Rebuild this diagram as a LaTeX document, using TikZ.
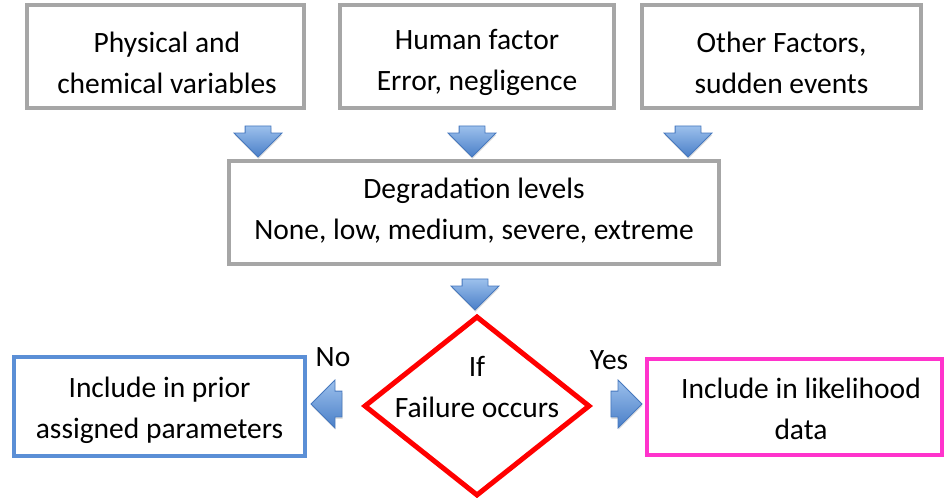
\documentclass[tikz,border=0pt]{standalone}
\usepackage{fontspec}
\setmainfont{Carlito}
\usetikzlibrary{shapes.geometric,shapes.arrows,shadows}
\definecolor{boxgray}{HTML}{A6A6A6}
\definecolor{priorblue}{HTML}{5B8FD6}
\definecolor{likepink}{HTML}{FF33CC}
\definecolor{arrowtop}{HTML}{9CC0EC}
\definecolor{arrowbot}{HTML}{4A7FC8}
\definecolor{arrowedge}{HTML}{4678BE}
\begin{document}
\begin{tikzpicture}[x=1pt,y=-1pt,
	txt/.style={font=\fontsize{29.5}{41}\selectfont,align=center,inner sep=0pt},
	frame/.style={draw=#1,line width=4pt,inner sep=0pt},
	blockarrow/.style={single arrow,draw=arrowedge,line width=0.8pt,top color=arrowtop,bottom color=arrowbot,
		minimum height=31pt,inner ysep=12.5pt,inner xsep=0pt,single arrow head extend=11pt,
		drop shadow={opacity=0.25,shadow xshift=0.5pt,shadow yshift=-2pt}},
	downarrow/.style={blockarrow,shape border rotate=270,inner xsep=12.5pt,inner ysep=0pt}]
	\useasboundingbox (0,0) rectangle (946,498);
	% top row
	\node[frame=boxgray,minimum width=277pt,minimum height=103pt] (phys) at (165.5,56.5) {};
	\node[txt] (physlbl) at (167,62.5) {Physical and\\chemical variables};
	\node[frame=boxgray,minimum width=274pt,minimum height=103pt] (human) at (477,56.5) {};
	\node[txt] (humanlbl) at (477,62.5) {Human factor\\Error, negligence};
	\node[frame=boxgray,minimum width=279pt,minimum height=103pt] (other) at (781.5,56.5) {};
	\node[txt] (otherlbl) at (781.5,62.5) {Other Factors,\\sudden events};
	\node[downarrow] (a1) at (258,135) {};
	\node[downarrow] (a2) at (472,135) {};
	\node[downarrow] (a3) at (688,135) {};
	% degradation
	\node[frame=boxgray,minimum width=490pt,minimum height=103pt] (degr) at (474,212.5) {};
	\node[txt] (degrlbl) at (474,210.5) {Degradation levels\\None, low, medium, severe, extreme};
	\node[downarrow] (a4) at (475,288) {};
	% decision
	\node[diamond,draw=red,line width=5pt,minimum width=226pt,minimum height=180pt,inner sep=0pt] (fail) at (477,406) {};
	\node[txt] (faillbl) at (477,387) {If\\Failure occurs};
	\node[txt] (no) at (333,357) {No};
	\node[txt] (yes) at (609,360) {Yes};
	\node[blockarrow,shape border rotate=180] (a5) at (333,404) {};
	\node[blockarrow] (a6) at (620,404) {};
	% outcomes
	\node[frame=priorblue,minimum width=291pt,minimum height=99pt] (prior) at (159.5,406.5) {};
	\node[txt] (priorlbl) at (159.5,410) {Include in prior\\assigned parameters};
	\node[frame=likepink,minimum width=295pt,minimum height=96pt] (like) at (794.5,407) {};
	\node[txt] (likelbl) at (801,409) {Include in likelihood\\data};
\end{tikzpicture}
\end{document}
